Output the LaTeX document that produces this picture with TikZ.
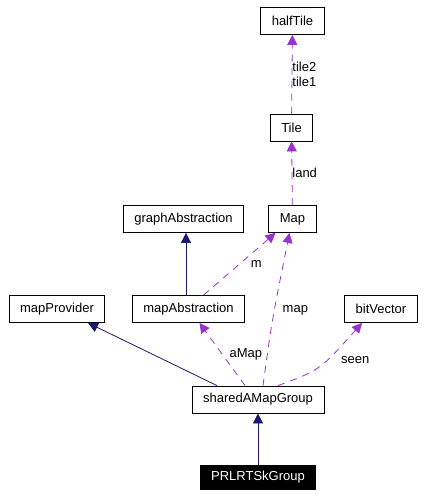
\documentclass[tikz,border=0pt]{standalone}
\usepackage{fontspec}
\setmainfont{Liberation Sans}
\usetikzlibrary{arrows.meta}
\definecolor{usecol}{HTML}{9A32CD}
\definecolor{inhcol}{HTML}{191970}
\tikzset{
  cls/.style={draw,line width=.8pt,fill=white,inner xsep=11pt,inner ysep=0pt,minimum height=27pt,
    font=\fontsize{13}{15}\selectfont},
  inh/.style={inhcol,line width=.8pt,-{Triangle[length=10pt,width=10pt]}},
  use/.style={usecol,line width=.8pt,dash pattern=on 7pt off 6pt,-{Triangle[length=10pt,width=10pt]}},
  lbl/.style={black,font=\fontsize{13}{15}\selectfont,inner sep=1pt}
}
\begin{document}
\begin{tikzpicture}[x=1pt,y=-1pt]
  \useasboundingbox (0,0) rectangle (426,498);
  \node[cls] (halfTile) at (292.5,21) {halfTile};
  \node[cls] (Tile) at (291.5,127.5) {Tile};
  \node[cls] (Map) at (292.5,219) {Map};
  \node[cls] (graphAbstraction) at (183.5,219) {graphAbstraction};
  \node[cls] (mapProvider) at (57,309) {mapProvider};
  \node[cls] (mapAbstraction) at (188.5,309) {mapAbstraction};
  \node[cls] (bitVector) at (381,309) {bitVector};
  \node[cls] (sharedAMapGroup) at (258,399.5) {sharedAMapGroup};
  \node[cls,fill=black,text=white,minimum height=24pt] (PRLRTSkGroup) at (258,477) {PRLRTSkGroup};
  % inheritance
  \draw[inh] (PRLRTSkGroup) -- (sharedAMapGroup);
  \draw[inh] ([xshift=-41pt]sharedAMapGroup.north) -- ([xshift=31pt]mapProvider.south);
  \draw[inh] ([xshift=-2.5pt]mapAbstraction.north) -- ([xshift=2.5pt]graphAbstraction.south);
  % members
  \draw[use] (Tile) -- (halfTile) node[lbl,pos=.5,right,inner xsep=0pt,align=left] {tile2\\tile1};
  \draw[use] (Map) -- (Tile) node[lbl,pos=.5,right,inner xsep=0pt] {land};
  \draw[use] ([xshift=15pt]mapAbstraction.north) -- ([xshift=-17pt]Map.south) node[lbl,pos=.5,right=10pt] {m};
  \draw[use] ([xshift=5pt]sharedAMapGroup.north) .. controls (272,320) .. ([xshift=-3pt]Map.south) node[lbl,pos=.56,right=7pt] {map};
  \draw[use] ([xshift=-13pt]sharedAMapGroup.north) -- ([xshift=11pt]mapAbstraction.south) node[lbl,pos=.5,right=6pt] {aMap};
  \draw[use] ([xshift=20pt]sharedAMapGroup.north) .. controls (320,370) .. ([xshift=-19pt]bitVector.south) node[lbl,pos=.62,right=12pt] {seen};
\end{tikzpicture}
\end{document}
